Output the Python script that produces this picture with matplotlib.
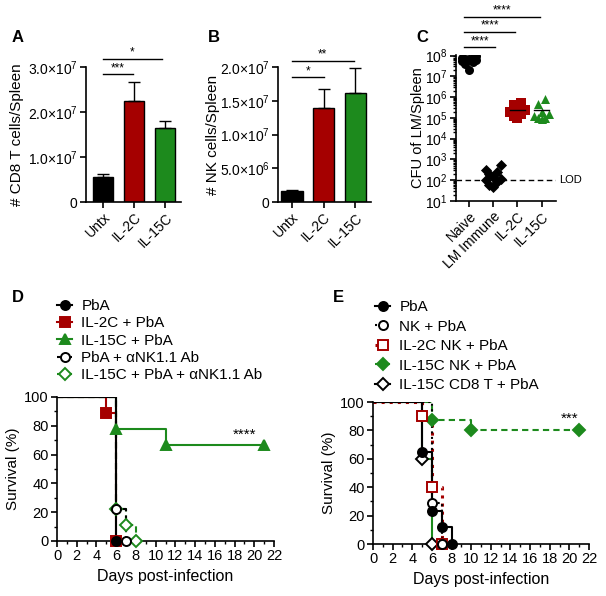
import numpy as np
import matplotlib
matplotlib.use("Agg")
import matplotlib.pyplot as plt
from matplotlib.lines import Line2D
from matplotlib.ticker import MultipleLocator, LogLocator, NullFormatter

plt.rcParams['font.family'] = ['Liberation Sans', 'DejaVu Sans']
plt.rcParams['mathtext.default'] = 'regular'
plt.rcParams['axes.linewidth'] = 1.2

# ---- data ----
groups = ['Untx', 'IL-2C', 'IL-15C']
cd8_mean = [0.56e7, 2.24e7, 1.64e7]
cd8_sem = [0.07e7, 0.43e7, 0.16e7]
nk_mean = [0.16e7, 1.40e7, 1.61e7]
nk_sem = [0.02e7, 0.27e7, 0.37e7]

cfu_groups = ['Naive', 'LM Immune', 'IL-2C', 'IL-15C']
cfu_naive = [8e7, 7e7, 6e7, 5e7, 9e7, 4e7, 6.5e7, 2e7, 5.5e7, 7.5e7]
cfu_lm = [550, 300, 250, 200, 150, 120, 100, 80, 60, 45]
cfu_il2c = [5e5, 4e5, 3e5, 2.5e5, 2e5, 1.5e5, 1.2e5, 1e5]
cfu_il15c = [8e5, 4.5e5, 2e5, 1.5e5, 1.2e5, 1e5, 1e5, 9e4]
lod = 100

# survival curves: event days and survival %
d_labels = ['PbA', 'IL-2C + PbA', 'IL-15C + PbA', 'PbA + \u03b1NK1.1 Ab', 'IL-15C + PbA + \u03b1NK1.1 Ab']
d_pba_t, d_pba_s = [0, 6], [100, 0]
d_il2c_t, d_il2c_s = [0, 5, 6], [100, 89, 0]
d_il15c_t, d_il15c_s = [0, 6, 11, 21], [100, 78, 67, 67]
d_ank_t, d_ank_s = [0, 6, 7], [100, 22, 0]
d_il15ank_t, d_il15ank_s = [0, 6, 7, 8], [100, 22, 11, 0]

e_labels = ['PbA', 'NK + PbA', 'IL-2C NK + PbA', 'IL-15C NK + PbA', 'IL-15C CD8 T + PbA']
e_pba_t, e_pba_s = [0, 5, 6, 7, 8], [100, 65, 23, 12, 0]
e_nk_t, e_nk_s = [0, 6, 7], [100, 29, 0]
e_il2nk_t, e_il2nk_s = [0, 5, 6, 7], [100, 90, 40, 0]
e_il15nk_t, e_il15nk_s = [0, 6, 10, 21], [100, 87, 80, 80]
e_cd8_t, e_cd8_s = [0, 5, 6], [100, 60, 0]

BLACK = '#000000'
RED = '#a50000'
GREEN = '#1d8a1d'
bar_colors = [BLACK, RED, GREEN]

W, H = 606, 596
fig = plt.figure(figsize=(W / 100, H / 100), dpi=100)


def px_axes(left, top, right, bottom):
    return fig.add_axes([left / W, 1 - bottom / H, (right - left) / W, (bottom - top) / H])


def sci(v, exp):
    if v == 0:
        return '0'
    return '%.1f\u00d710$^{%d}$' % (v / 10 ** exp, exp)


def clean(ax, size=10):
    ax.spines['top'].set_visible(False)
    ax.spines['right'].set_visible(False)
    ax.tick_params(width=1.2, length=4, labelsize=size, pad=2)
    ax.tick_params(which='minor', width=1, length=2.5)


def sig(ax, x0, x1, y, stars, trans=None):
    kw = dict(clip_on=False, color='k', lw=1)
    if trans is not None:
        kw['transform'] = trans
    ax.plot([x0, x1], [y, y], **kw)
    tkw = dict(ha='center', va='bottom', fontsize=8.5, clip_on=False)
    if trans is not None:
        tkw['transform'] = trans
    ax.text((x0 + x1) / 2, y, stars, **tkw)


# ---- A ----
axA = px_axes(86, 67, 181, 202)
x = np.arange(len(groups))
axA.bar(x, cd8_mean, width=0.65, color=bar_colors, edgecolor='k', lw=1)
axA.errorbar(x, cd8_mean, yerr=[np.zeros(3), cd8_sem], fmt='none', ecolor='k', elinewidth=1, capsize=4, capthick=1)
axA.set_xlim(-0.55, 2.52)
axA.set_ylim(0, 3e7)
axA.set_yticks([0, 1e7, 2e7, 3e7])
axA.set_yticklabels([sci(v, 7) for v in [0, 1e7, 2e7, 3e7]])
axA.set_xticks(x)
axA.set_xticklabels(groups, rotation=45, ha='right', rotation_mode='anchor')
axA.set_ylabel('# CD8 T cells/Spleen', fontsize=11)
axA.yaxis.set_label_coords(-0.65, 0.5)
clean(axA)
sig(axA, 0, 0.97, 2.84e7, '***')
sig(axA, 0, 1.9, 3.18e7, '*')

# ---- B ----
axB = px_axes(278, 67, 371, 202)
axB.bar(x, nk_mean, width=0.67, color=bar_colors, edgecolor='k', lw=1)
axB.errorbar(x, nk_mean, yerr=[np.zeros(3), nk_sem], fmt='none', ecolor='k', elinewidth=1, capsize=4, capthick=1)
axB.set_xlim(-0.44, 2.5)
axB.set_ylim(0, 2e7)
bt = [0, 5e6, 1e7, 1.5e7, 2e7]
axB.set_yticks(bt)
axB.set_yticklabels(['0', sci(5e6, 6), sci(1e7, 7), sci(1.5e7, 7), sci(2e7, 7)])
axB.set_xticks(x)
axB.set_xticklabels(groups, rotation=45, ha='right', rotation_mode='anchor')
axB.set_ylabel('# NK cells/Spleen', fontsize=11)
axB.yaxis.set_label_coords(-0.62, 0.5)
clean(axB)
sig(axB, 0, 1.0, 1.85e7, '*')
sig(axB, 0, 1.95, 2.09e7, '**')

# ---- C ----
axC = px_axes(456, 55, 556, 201)
cfu_sets = [cfu_naive, cfu_lm, cfu_il2c, cfu_il15c]
cfu_style = [('o', BLACK), ('D', BLACK), ('s', RED), ('^', GREEN)]
for i, (vals, (mk, col)) in enumerate(zip(cfu_sets, cfu_style)):
    vals = np.array(vals)
    order = np.argsort(vals)
    offs = np.zeros(len(vals))
    pattern = [0, -0.16, 0.16, -0.3, 0.3]
    for k, idx in enumerate(order):
        offs[idx] = pattern[k % len(pattern)]
    axC.scatter(i + offs, vals, marker=mk, s=42 if mk != 'D' else 32, color=col, zorder=3, lw=0)
    m = vals.mean()
    axC.plot([i - 0.32, i + 0.32], [m, m], color='k', lw=1, zorder=4)
axC.set_yscale('log')
axC.set_ylim(10, 1.06e8)
axC.set_xlim(-0.55, 3.6)
axC.axhline(lod, color='k', ls='--', lw=1, dashes=(4, 2.5))
axC.text(3.75, lod, 'LOD', fontsize=8, va='center', ha='left')
axC.set_yticks([10 ** k for k in range(1, 9)])
axC.set_yticklabels(['10$^{%d}$' % k for k in range(1, 9)])
axC.yaxis.set_minor_locator(LogLocator(base=10, subs=np.arange(2, 10), numticks=20))
axC.yaxis.set_minor_formatter(NullFormatter())
axC.set_xticks(np.arange(4))
axC.set_xticklabels(cfu_groups, rotation=45, ha='right', rotation_mode='anchor')
axC.set_ylabel('CFU of LM/Spleen', fontsize=10.5)
axC.yaxis.set_label_coords(-0.31, 0.5)
clean(axC)
tC = axC.get_xaxis_transform()
sig(axC, -0.2, 1.07, 1.055, '****', tC)
sig(axC, -0.2, 1.9, 1.159, '****', tC)
sig(axC, -0.2, 2.95, 1.262, '****', tC)


# ---- survival helpers ----
def surv(ax, t, s, color, ls, marker, mfc, lw=1.5, mcol=None, dashes=None, ms=6.5):
    kw = dict(color=color, lw=lw, ls=ls, where='post')
    if dashes is not None:
        kw['dashes'] = dashes
    ax.step(t, s, **kw)
    mcol = mcol or color
    ax.plot(t[1:], s[1:], ls='none', marker=marker, ms=ms, mfc=mfc, mec=mcol, mew=1.4, clip_on=False, zorder=5)
    h = Line2D([], [], color=mcol, lw=lw, ls=ls, marker=marker, ms=ms, mfc=mfc, mec=mcol, mew=1.4)
    if dashes is not None:
        h.set_dashes(dashes)
    return h


def surv_axes(ax):
    ax.set_xlim(0, 22)
    ax.set_ylim(0, 100)
    ax.xaxis.set_major_locator(MultipleLocator(2))
    ax.xaxis.set_minor_locator(MultipleLocator(1))
    ax.yaxis.set_major_locator(MultipleLocator(20))
    ax.yaxis.set_minor_locator(MultipleLocator(10))
    clean(ax, 10.5)
    ax.set_ylabel('Survival (%)', fontsize=11, labelpad=3)
    ax.set_xlabel('Days post-infection', fontsize=11.5, labelpad=4)


leg_kw = dict(loc='upper left', frameon=False, fontsize=11, handlelength=1.0, handletextpad=0.6,
              borderaxespad=0, borderpad=0)

# ---- D ----
axD = px_axes(57, 397, 274, 541)
hD = [None] * 5
hD[4] = surv(axD, d_il15ank_t, d_il15ank_s, GREEN, '--', 'D', 'white', dashes=(3, 2), ms=6)
hD[3] = surv(axD, d_ank_t, d_ank_s, BLACK, '--', 'o', 'white', dashes=(3, 2))
hD[2] = surv(axD, d_il15c_t, d_il15c_s, GREEN, '-', '^', GREEN)
hD[1] = surv(axD, d_il2c_t, d_il2c_s, RED, '-', 's', RED)
hD[0] = surv(axD, d_pba_t, d_pba_s, BLACK, '-', 'o', BLACK)
surv_axes(axD)
axD.text(19, 69, '****', fontsize=11, ha='center', va='bottom')
fig.legend(hD, d_labels, bbox_to_anchor=(57 / W, 1 - 299 / H), labelspacing=0.22, **leg_kw)

# ---- E ----
axE = px_axes(373, 402, 589, 544)
hE = [None] * 5
hE[3] = surv(axE, e_il15nk_t, e_il15nk_s, GREEN, '--', 'D', GREEN, dashes=(3, 2), ms=6)
surv(axE, e_cd8_t, e_cd8_s, GREEN, '-', 'D', 'white', mcol=BLACK, ms=6)
hE[4] = Line2D([], [], color=BLACK, lw=1.5, marker='D', ms=6, mfc='white', mec=BLACK, mew=1.4)
hE[2] = surv(axE, e_il2nk_t, e_il2nk_s, RED, ':', 's', 'white', lw=2.2)
hE[1] = surv(axE, e_nk_t, e_nk_s, BLACK, ':', 'o', 'white')
hE[0] = surv(axE, e_pba_t, e_pba_s, BLACK, '-', 'o', BLACK)
surv_axes(axE)
axE.text(20, 83, '***', fontsize=11, ha='center', va='bottom')
fig.legend(hE, e_labels, bbox_to_anchor=(375 / W, 1 - 300 / H), labelspacing=0.36, **leg_kw)

# ---- panel letters ----
for lbl, (px, py) in zip('ABCDE', [(12, 37), (208, 37), (416, 38), (12, 297), (333, 297)]):
    fig.text(px / W, 1 - py / H, lbl, fontsize=12, fontweight='bold', ha='left', va='center')

fig.savefig('out.png', dpi=100)
